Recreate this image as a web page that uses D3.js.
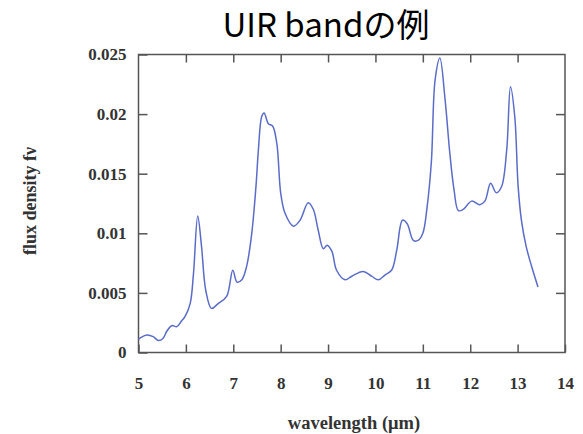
<!DOCTYPE html>
<html>
<head>
<meta charset="utf-8">
<script src="https://d3js.org/d3.v7.min.js"></script>
<style>
  body { margin: 0; background: #fff; }
  .tick text { font-family: "Liberation Serif", "DejaVu Serif", serif; }
</style>
</head>
<body>
<div id="chart"></div>
<script>
// spectrum
var wavelength = [5.00, 5.03, 5.17, 5.31, 5.42, 5.52, 5.60, 5.70, 5.81, 5.90, 5.98, 6.09, 6.16, 6.25, 6.33, 6.42, 6.54, 6.68, 6.86, 6.99, 7.08, 7.18, 7.28, 7.39, 7.48, 7.53, 7.60, 7.65, 7.74, 7.83, 7.92, 8.00, 8.09, 8.27, 8.41, 8.58, 8.69, 8.79, 8.90, 8.98, 9.08, 9.18, 9.36, 9.50, 9.74, 9.92, 10.06, 10.20, 10.34, 10.45, 10.57, 10.67, 10.80, 10.90, 11.00, 11.09, 11.18, 11.26, 11.36, 11.47, 11.57, 11.66, 11.75, 11.85, 12.03, 12.20, 12.31, 12.43, 12.55, 12.66, 12.77, 12.85, 12.94, 13.01, 13.08, 13.18, 13.29, 13.43];
var flux = [0.0011, 0.0012, 0.00147, 0.00133, 0.001, 0.0012, 0.0018, 0.00225, 0.00217, 0.0026, 0.0030, 0.0041, 0.0066, 0.01145, 0.0089, 0.0052, 0.0037, 0.0041, 0.0047, 0.0069, 0.0059, 0.0061, 0.0072, 0.0100, 0.0140, 0.0170, 0.0198, 0.0201, 0.0192, 0.0190, 0.0175, 0.0134, 0.0117, 0.0106, 0.0111, 0.01257, 0.0120, 0.0103, 0.0087, 0.0090, 0.0085, 0.0069, 0.0061, 0.0064, 0.0068, 0.0064, 0.0061, 0.0065, 0.0069, 0.0086, 0.0111, 0.0108, 0.0094, 0.0094, 0.0100, 0.0122, 0.0160, 0.0229, 0.0247, 0.0212, 0.0167, 0.0136, 0.0119, 0.0120, 0.0127, 0.0124, 0.0127, 0.0142, 0.0134, 0.0139, 0.0170, 0.0223, 0.0198, 0.0140, 0.0111, 0.0089, 0.0073, 0.0055];

var xTicks = [5, 6, 7, 8, 9, 10, 11, 12, 13, 14];
var yTicks = [0, 0.005, 0.01, 0.015, 0.02, 0.025];

var svgWidth = 583;
var svgHeight = 434;
var margin = { top: 54.5, right: 18, bottom: 81.5, left: 138.5 };
var width = svgWidth - margin.left - margin.right;
var height = svgHeight - margin.top - margin.bottom;

var svg = d3.select("#chart")
  .append("svg")
  .attr("width", svgWidth)
  .attr("height", svgHeight);

// title
svg.append("text")
  .attr("x", 326)
  .attr("y", 37)
  .attr("text-anchor", "middle")
  .style("font-family", "'Noto Sans CJK JP', 'Noto Sans', sans-serif")
  .style("font-size", "33px")
  .style("fill", "#000")
  .text("UIR bandの例");

var chartGroup = svg.append("g")
  .attr("transform", `translate(${margin.left}, ${margin.top})`);

var xScale = d3.scaleLinear().domain([5, 14]).range([0, width]);
var yScale = d3.scaleLinear().domain([0, 0.025]).range([height, 0]);

var tickFmt = d => d === 0 ? "0" : String(+d.toFixed(3));

// bottom + left axes carry the labels, top + right only ticks
var bottomAxis = d3.axisBottom(xScale).tickValues(xTicks).tickSize(-8).tickPadding(24).tickFormat(d3.format("d"));
var leftAxis = d3.axisLeft(yScale).tickValues(yTicks).tickSize(-9).tickPadding(12).tickFormat(tickFmt);
var topAxis = d3.axisTop(xScale).tickValues(xTicks.slice(1, -1)).tickSize(-8).tickFormat("");
var rightAxis = d3.axisRight(yScale).tickValues(yTicks.slice(1, -1)).tickSize(-9).tickFormat("");

chartGroup.append("g").attr("transform", `translate(0, ${height})`).call(bottomAxis);
chartGroup.append("g").call(leftAxis);
chartGroup.append("g").call(topAxis);
chartGroup.append("g").attr("transform", `translate(${width}, 0)`).call(rightAxis);

chartGroup.selectAll(".domain").remove();
chartGroup.selectAll(".tick line").attr("stroke", "#555").attr("stroke-width", 1.5);
chartGroup.selectAll(".tick text")
  .style("font-size", "17px")
  .style("font-weight", "bold")
  .style("fill", "#333");

// frame
chartGroup.append("rect")
  .attr("width", width)
  .attr("height", height)
  .attr("fill", "none")
  .attr("stroke", "#555")
  .attr("stroke-width", 1.5);

// spectrum line
var line = d3.line()
  .x((d, i) => xScale(wavelength[i]))
  .y(d => yScale(d))
  .curve(d3.curveCatmullRom.alpha(0.5));

chartGroup.append("path")
  .datum(flux)
  .attr("fill", "none")
  .attr("stroke", "#5a6cc8")
  .attr("stroke-width", 1.5)
  .attr("d", line);

// axis labels
svg.append("text")
  .attr("x", 354)
  .attr("y", 429)
  .attr("text-anchor", "middle")
  .style("font-family", "'Liberation Serif', serif")
  .style("font-size", "18.5px")
  .style("font-weight", "bold")
  .style("fill", "#333")
  .text("wavelength (μm)");

svg.append("text")
  .attr("transform", "translate(36, 201) rotate(-90)")
  .attr("text-anchor", "middle")
  .style("font-family", "'Liberation Serif', serif")
  .style("font-size", "18px")
  .style("font-weight", "bold")
  .style("fill", "#333")
  .text("flux density fν");
</script>
</body>
</html>
